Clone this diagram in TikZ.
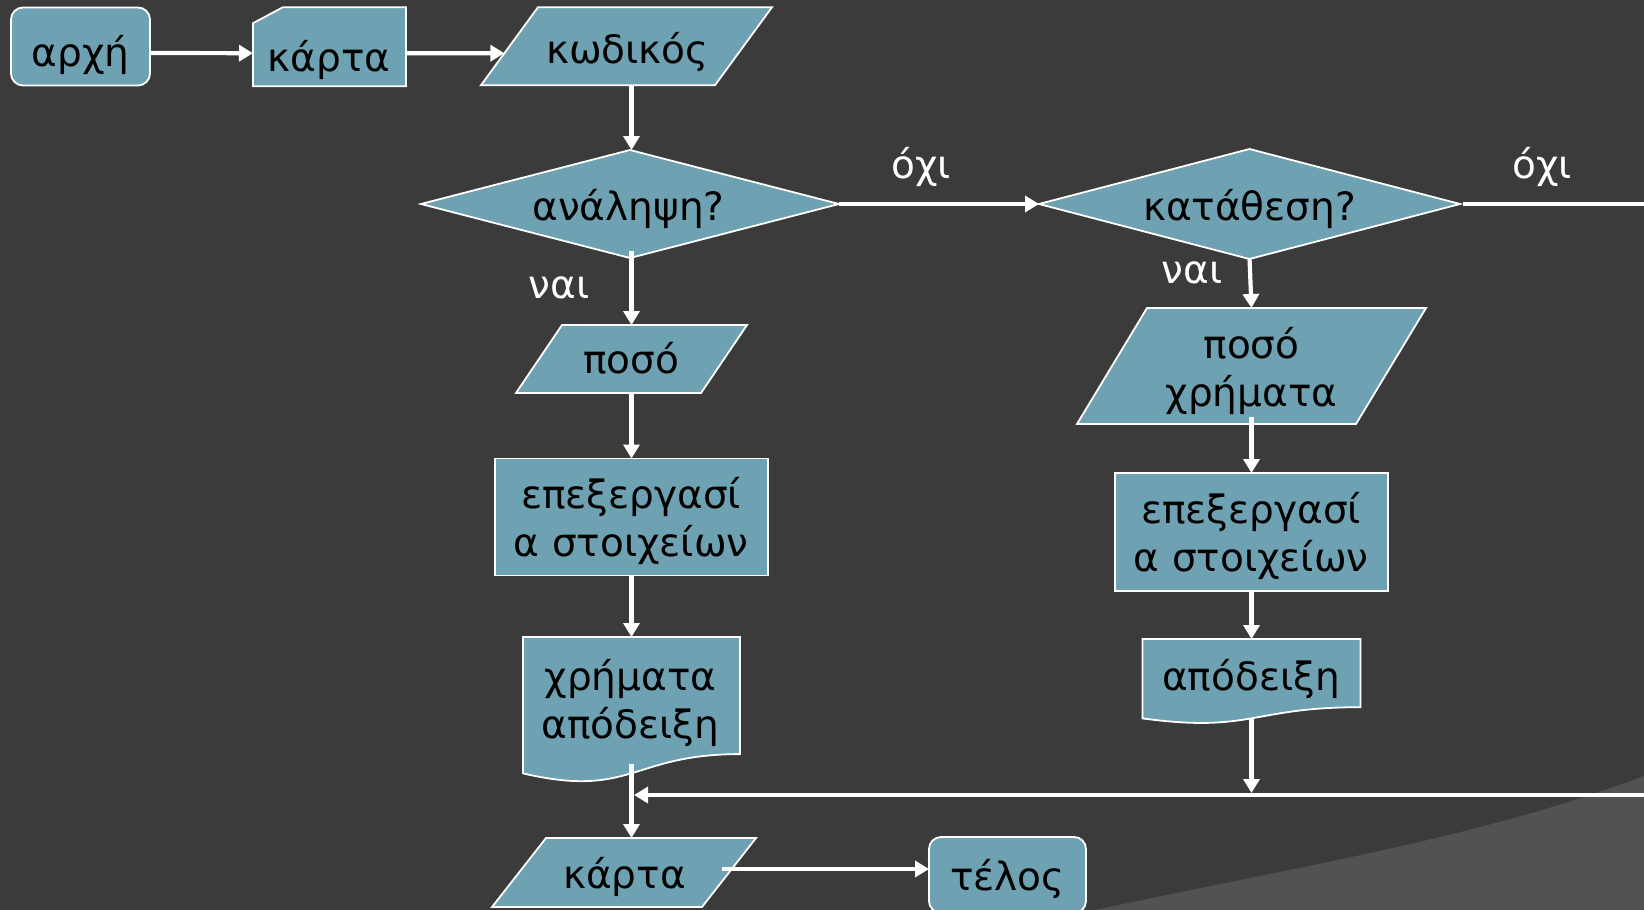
\documentclass[tikz,border=0pt]{standalone}
\usepackage{fontspec}
\setmainfont{DejaVu Sans}
\usetikzlibrary{arrows.meta,calc,backgrounds}

\definecolor{slate}{RGB}{59,59,59}
\definecolor{slatelight}{RGB}{82,82,82}
\definecolor{boxfill}{RGB}{110,161,177}

% parallelogram behind node #1, top edge shifted right by #2
\newcommand\paragram[2]{%
  \draw[shp] ($(#1.north west)+(#2,0)$) -- (#1.north east)
    -- ($(#1.south east)-(#2,0)$) -- (#1.south west) -- cycle;}
% diamond filling the node box
\newcommand\rhombus[1]{%
  \draw[shp] (#1.north) -- (#1.east) -- (#1.south) -- (#1.west) -- cycle;}
% document shape: node is the text area, #2 is the full height
\newcommand\docshape[2]{%
  \draw[shp] (#1.north west) -- (#1.north east) -- ($(#1.north east)+(0,0.802*#2)$)
    .. controls ($(#1.north)+(0,0.802*#2)$) and ($(#1.north)+(0,1.108*#2)$)
    .. ($(#1.north west)+(0,0.934*#2)$) -- cycle;}

\begin{document}
\begin{tikzpicture}[x=1pt,y=-1pt,
  every node/.style={inner sep=0pt, outer sep=0pt, font=\fontsize{39pt}{48pt}\selectfont},
  box/.style={draw=none, minimum width=#1},
  txt/.style={text=black, anchor=base},
  txt2/.style={text=black, anchor=base, text width=300pt, align=center},
  lbl/.style={text=white, anchor=base},
  shp/.style={fill=boxfill, draw=white, line width=1.8pt, line join=miter},
  conn/.style={draw=white, line width=4.2pt, -{Triangle[length=14pt,width=16pt]}},
  wire/.style={draw=white, line width=4.2pt},
]
\useasboundingbox (0,0) rectangle (1644,910);

% ---- shape boxes (anchors for the outlines and the connectors)
\node[box=139pt, minimum height=78pt] (arxi)      at (80.5,46.5)  {};
\node[box=153pt, minimum height=79pt] (karta)     at (329.5,46.7) {};
\node[box=291pt, minimum height=78pt] (kodikos)   at (626.5,46.2) {};
\node[box=418pt, minimum height=108pt] (analipsi) at (630,204)    {};
\node[box=421pt, minimum height=110pt] (katathesi) at (1249.5,204) {};
\node[box=231pt, minimum height=68pt] (poso)      at (631.5,359)  {};
\node[box=349pt, minimum height=116pt] (poso2)    at (1251.5,366) {};
\node[box=273pt, minimum height=117pt] (proc)     at (631.5,517)  {};
\node[box=273pt, minimum height=118pt] (proc2)    at (1251.5,532) {};
\node[box=217pt, minimum height=117pt] (doc)      at (631.5,695.5) {};
\node[box=218pt, minimum height=68pt] (doc2)      at (1251.5,673) {};
\node[box=264pt, minimum height=69pt] (karta2)    at (624,872.5)  {};
\node[box=157pt, minimum height=76pt] (telos)     at (1007.5,875) {};

% ---- background and outlines
\begin{scope}[on background layer]
  \fill[slate] (0,0) rectangle (1644,910);
  \fill[slatelight] (1095,910) .. controls (1300,866) and (1480,838) .. (1644,776)
    -- (1644,910) -- cycle;
  \draw[shp, rounded corners=12pt] (arxi.north west) rectangle (arxi.south east);
  \draw[shp] ($(karta.north west)+(0,16)$) -- ($(karta.north west)+(30,0)$)
    -- (karta.north east) -- (karta.south east) -- (karta.south west) -- cycle;
  \paragram{kodikos}{57}
  \rhombus{analipsi}
  \rhombus{katathesi}
  \paragram{poso}{46}
  \paragram{poso2}{70}
  \draw[shp] (proc.north west) rectangle (proc.south east);
  \draw[shp] (proc2.north west) rectangle (proc2.south east);
  \docshape{doc}{146}
  \docshape{doc2}{85}
  \paragram{karta2}{54}
  \draw[shp, rounded corners=12pt] (telos.north west) rectangle (telos.south east);
\end{scope}

% ---- texts
\node[txt] (arxi-t)      at (80.5,66.5)   {αρχή};
\node[txt] (karta-t)     at (329,71.7)    {κάρτα};
\node[txt] (kodikos-t)   at (627.5,63.3)  {κωδικός};
\node[txt] (analipsi-t)  at (628.5,220)   {ανάληψη?};
\node[txt] (katathesi-t) at (1249.5,220)  {κατάθεση?};
\node[txt] (poso-t)      at (631,373.3)   {ποσό};
\node[txt2] (poso2-t)    at (1251.5,358.3) {ποσό\\χρήματα};
\node[txt2] (proc-t)     at (631,508)     {επεξεργασί\\α στοιχείων};
\node[txt2] (proc2-t)    at (1251,523)    {επεξεργασί\\α στοιχείων};
\node[txt2] (doc-t)      at (630.5,690)   {χρήματα\\απόδειξη};
\node[txt] (doc2-t)      at (1251,690)    {απόδειξη};
\node[txt] (karta2-t)    at (624.5,888.3) {κάρτα};
\node[txt] (telos-t)     at (1007.5,890)  {τέλος};

\node[lbl] (yes1) at (559,298)  {ναι};
\node[lbl] (no1)  at (921,178)  {όχι};
\node[lbl] (yes2) at (1192,283) {ναι};
\node[lbl] (no2)  at (1542,178) {όχι};

% ---- connectors
\coordinate (kodikos-tl) at ($(kodikos.north west)+(57,0)$);
\coordinate (kin) at ($(kodikos.south west)!0.41!(kodikos-tl)$);
\coordinate (edgeR) at (1644,204);
\coordinate (edgeB) at (1644,795);
\coordinate (join)  at (634,795);

\draw[conn] ($(arxi.east)+(0,6.5)$) -- ($(karta.west)+(0,6.5)$);
\draw[conn] ($(karta.east)+(0,6.5)$) -- (kin);
\draw[conn] (poso.north |- kodikos.south) -- (poso.north |- analipsi.north);
\draw[conn] (analipsi.east) -- (katathesi.west);
\draw[wire] ($(katathesi.east)+(3,0)$) -- (edgeR);
\draw[conn] ($(poso.north |- analipsi.south)+(0,-7)$) -- (poso.north);
\draw[conn] ($(katathesi.south)+(0,-1)$) -- (poso2.north);
\draw[conn] (poso.south) -- (proc.north);
\draw[conn] ($(poso2.south)+(0,-7)$) -- (proc2.north);
\draw[conn] (proc.south) -- (doc.north);
\draw[conn] (proc2.south) -- (doc2.north);
\draw[conn] ($(doc2.south)+(0,11)$) -- ($(doc2.south |- edgeB)+(0,-2)$);
\draw[conn] (edgeB) -- (join);
\draw[conn] ($(doc.south)+(0,10)$) -- (doc.south |- karta2.north);
\draw[conn] ($(karta2.center)+(98,-3.5)$) coordinate (kt) -- (telos.west |- kt);
\end{tikzpicture}
\end{document}
